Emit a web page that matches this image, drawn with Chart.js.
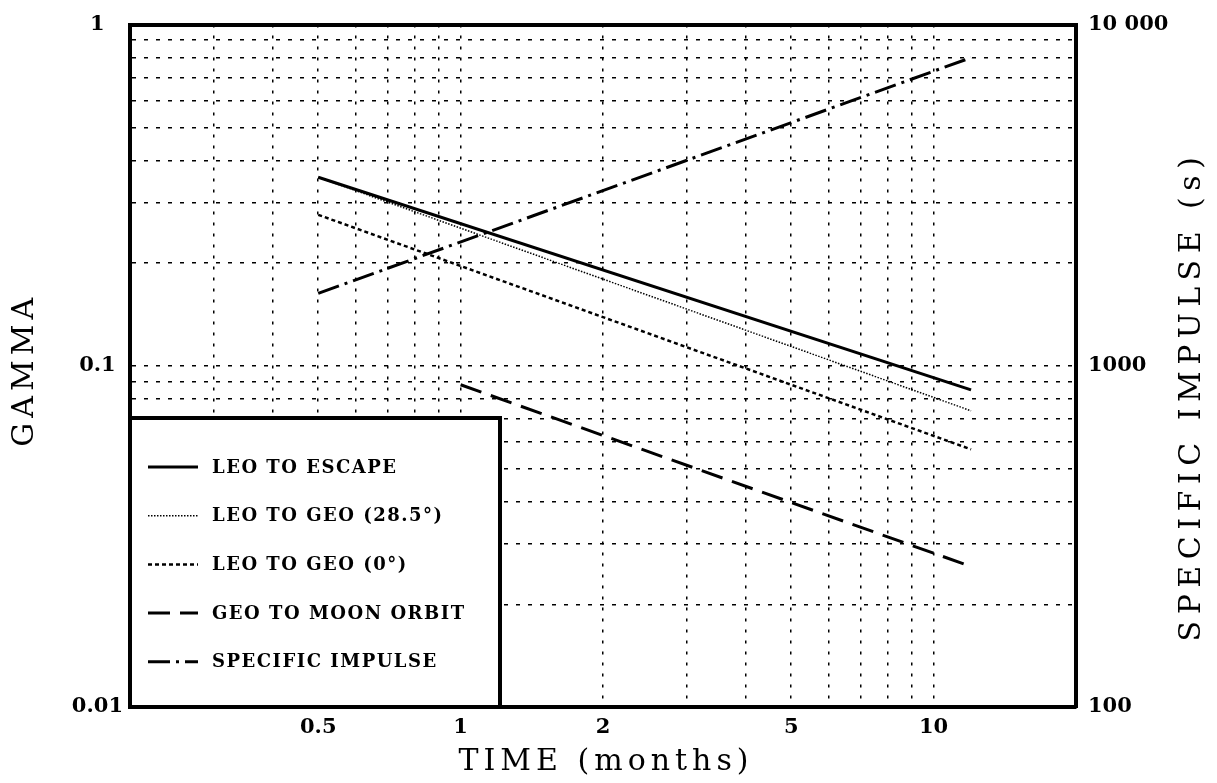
<!DOCTYPE html>
<html>
<head>
<meta charset="utf-8">
<script src="https://cdn.jsdelivr.net/npm/chart.js@4/dist/chart.umd.min.js"></script>
<style>
html,body{margin:0;padding:0;background:#fff;}
#wrap{width:1217px;height:783px;position:relative;}
</style>
</head>
<body>
<div id="wrap"><canvas id="c" width="1217" height="783"></canvas></div>
<script>
// ---- data (log-log straight lines) ----
const seriesLabels = ['LEO TO ESCAPE', 'LEO TO GEO (28.5°)', 'LEO TO GEO (0°)', 'GEO TO MOON ORBIT', 'SPECIFIC IMPULSE'];

const escapeTime = [0.5, 12];
const escapeGamma = [0.357, 0.085];

const geo285Time = [0.5, 12];
const geo285Gamma = [0.357, 0.0738];

const geo0Time = [0.5, 12];
const geo0Gamma = [0.277, 0.0569];

const moonTime = [1, 12];
const moonGamma = [0.088, 0.0258];

const ispTime = [0.5, 12];
const ispSeconds = [1630, 8000];

// ---- ticks ----
const xGridValues = [0.2,0.3,0.4,0.5,0.6,0.7,0.8,0.9,1,2,3,4,5,6,7,8,9,10,20];
const xTickLabels = [0.5, 1, 2, 5, 10];
const gammaGridValues = [0.01,0.02,0.03,0.04,0.05,0.06,0.07,0.08,0.09,0.1,0.2,0.3,0.4,0.5,0.6,0.7,0.8,0.9,1];
const gammaTickLabels = [0.01, 0.1, 1];
const ispTickValues = [100, 1000, 10000];
const ispTickText = ['100', '1000', '10 000'];

const pts = (xs, ys) => xs.map((x, i) => ({x, y: ys[i]}));

const styles = [
  {borderWidth: 3, borderDash: []},
  {borderWidth: 1.5, borderDash: [1.5, 1.5]},
  {borderWidth: 2.5, borderDash: [4, 3]},
  {borderWidth: 3, borderDash: [22, 10]},
  {borderWidth: 3, borderDash: [22, 6, 3, 6]}
];

const datasets = [
  {data: pts(escapeTime, escapeGamma), yAxisID: 'y'},
  {data: pts(geo285Time, geo285Gamma), yAxisID: 'y'},
  {data: pts(geo0Time, geo0Gamma), yAxisID: 'y'},
  {data: pts(moonTime, moonGamma), yAxisID: 'y'},
  {data: pts(ispTime, ispSeconds), yAxisID: 'y2'}
].map((d, i) => Object.assign(d, {
  label: seriesLabels[i],
  borderColor: '#000',
  backgroundColor: '#000',
  pointRadius: 0,
  tension: 0,
  fill: false,
  borderCapStyle: 'butt',
  xAxisID: 'x'
}, styles[i]));

const tickFont = {family: 'DejaVu Serif', size: 21, weight: 'bold'};

const legendPlugin = {
  id: 'boxLegend',
  afterDraw(chart) {
    const ctx = chart.ctx, ca = chart.chartArea;
    const left = ca.left, right = ca.left + 370, top = 418, bottom = ca.bottom;
    ctx.save();
    ctx.fillStyle = '#fff';
    ctx.fillRect(left, top, right - left, bottom - top);
    ctx.strokeStyle = '#000';
    ctx.lineWidth = 4;
    ctx.strokeRect(left, top, right - left, bottom - top);
    chart.data.datasets.forEach((ds, i) => {
      const y = top + 49 + i * 48.7;
      ctx.beginPath();
      ctx.lineWidth = ds.borderWidth;
      ctx.setLineDash(ds.borderDash);
      ctx.moveTo(left + 18, y);
      ctx.lineTo(left + 68, y);
      ctx.stroke();
      ctx.setLineDash([]);
      ctx.fillStyle = '#000';
      ctx.font = 'bold 18px "DejaVu Serif"';
      ctx.letterSpacing = '1.5px';
      ctx.textAlign = 'left';
      ctx.textBaseline = 'middle';
      ctx.fillText(ds.label, left + 82, y + 1);
    });
    ctx.restore();
  }
};

const titlePlugin = {
  id: 'axisTitles',
  afterDraw(chart) {
    const ctx = chart.ctx, ca = chart.chartArea;
    ctx.save();
    ctx.fillStyle = '#000';
    ctx.font = '30px "DejaVu Serif"';
    ctx.letterSpacing = '5px';
    ctx.textAlign = 'center';
    ctx.textBaseline = 'middle';
    ctx.fillText('TIME (months)', (ca.left + ca.right) / 2 + 3, 762);
    ctx.save();
    ctx.translate(25, (ca.top + ca.bottom) / 2 + 4);
    ctx.rotate(-Math.PI / 2);
    ctx.fillText('GAMMA', 0, 0);
    ctx.restore();
    ctx.save();
    ctx.letterSpacing = '6.5px';
    ctx.translate(1192, 396);
    ctx.rotate(-Math.PI / 2);
    ctx.fillText('SPECIFIC IMPULSE (s)', 0, 0);
    ctx.restore();
    ctx.restore();
  }
};

new Chart(document.getElementById('c'), {
  type: 'line',
  data: {datasets},
  options: {
    responsive: false,
    animation: false,
    layout: {padding: 0},
    plugins: {legend: {display: false}, tooltip: {enabled: false}},
    scales: {
      x: {
        type: 'logarithmic', position: 'bottom', min: 0.2, max: 20,
        afterBuildTicks: s => { s.ticks = xGridValues.map(v => ({value: v})); },
        afterFit: s => { s.height = 76; },
        ticks: {
          autoSkip: false, maxRotation: 0, color: '#000', font: tickFont, padding: 8,
          callback: v => xTickLabels.includes(v) ? String(v) : ''
        },
        grid: {color: '#000', lineWidth: 1.5, drawTicks: false},
        border: {display: true, color: '#000', width: 4, dash: [3, 8]}
      },
      xTop: {
        type: 'logarithmic', position: 'top', min: 0.2, max: 20,
        afterFit: s => { s.height = 18; },
        ticks: {display: false},
        grid: {display: false, drawTicks: false},
        border: {display: true, color: '#000', width: 4}
      },
      y: {
        type: 'logarithmic', position: 'left', min: 0.01, max: 1,
        afterBuildTicks: s => { s.ticks = gammaGridValues.map(v => ({value: v})); },
        afterFit: s => { s.width = 130; },
        ticks: {
          autoSkip: false, color: '#000', font: tickFont, padding: 7, crossAlign: 'center',
          callback: v => gammaTickLabels.includes(v) ? String(v) : ''
        },
        grid: {color: '#000', lineWidth: 1.5, drawTicks: false},
        border: {display: true, color: '#000', width: 4, dash: [4, 8]}
      },
      y2: {
        type: 'logarithmic', position: 'right', min: 100, max: 10000,
        afterBuildTicks: s => { s.ticks = ispTickValues.map(v => ({value: v})); },
        afterFit: s => { s.width = 141; },
        ticks: {
          autoSkip: false, color: '#000', font: tickFont, padding: 12,
          callback: v => { const i = ispTickValues.indexOf(v); return i >= 0 ? ispTickText[i] : ''; }
        },
        grid: {drawOnChartArea: false, drawTicks: false},
        border: {display: true, color: '#000', width: 4}
      }
    }
  },
  plugins: [legendPlugin, titlePlugin]
});
</script>
</body>
</html>
